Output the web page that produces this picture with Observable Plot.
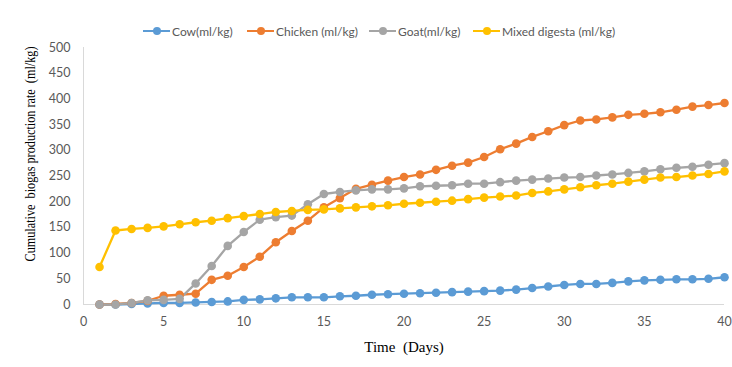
<!DOCTYPE html>
<html>
<head>
<meta charset="utf-8">
<script src="https://cdn.jsdelivr.net/npm/d3@7"></script>
<script src="https://cdn.jsdelivr.net/npm/@observablehq/plot@0.6"></script>
<style>
  body { margin: 0; background: #fff; }
  #wrap { position: relative; width: 732px; height: 367px; }
  #legend { position: absolute; top: 22px; left: 0; width: 732px; height: 18px; font-family: Lato, "Open Sans", sans-serif; font-size: 12px; color: #595959; }
  .item { position: absolute; top: 0; display: flex; align-items: center; height: 18px; white-space: nowrap; }
  .sw { position: relative; width: 27px; height: 18px; margin-right: 2px; }
  .sw .ln { position: absolute; left: 0; top: 8px; width: 27px; height: 2.3px; }
  .sw .dt { position: absolute; left: 9.5px; top: 5px; width: 8px; height: 8px; border-radius: 50%; }
</style>
</head>
<body>
<div id="wrap">
  <div id="chart"></div>
  <div id="legend"></div>
</div>
<script>
const days = d3.range(1, 41);
const seriesNames = ["Cow(ml/kg)", "Chicken (ml/kg)", "Goat(ml/kg)", "Mixed digesta (ml/kg)"];
const colors = ["#5B9BD5", "#ED7D31", "#A5A5A5", "#FFC000"];
const cow = [0,0,1,2,3,3,4,5,6,9,10,12,14,14,14,16,17,19,20,21,22,23,24,25,26,27,29,32,35,38,40,40,42,45,47,48,49,49,50,53];
const chicken = [0,1,3,7,17,19,21,48,56,73,93,121,143,163,189,207,225,233,241,248,253,262,270,276,287,302,313,326,337,349,358,360,364,369,371,374,379,385,388,392];
const goat = [0,0,3,8,9,11,41,75,114,141,165,170,173,195,215,219,222,224,224,226,230,231,232,235,235,238,241,243,245,247,248,251,253,256,259,263,266,268,272,275];
const mixed = [73,144,147,149,152,156,160,163,168,172,176,180,182,184,185,187,189,191,193,196,198,200,202,205,208,210,212,217,220,224,228,232,235,239,243,247,248,251,254,259];
const xTicks = [0,5,10,15,20,25,30,35,40];
const yTicks = [0,50,100,150,200,250,300,350,400,450,500];
const legendX = [143, 247, 369, 473];

const allSeries = [cow, chicken, goat, mixed];
const data = [];
allSeries.forEach((vals, si) => vals.forEach((v, i) => data.push({day: days[i], value: v, series: seriesNames[si]})));

const chart = Plot.plot({
  width: 732,
  height: 367,
  marginLeft: 83,
  marginRight: 8,
  marginTop: 47,
  marginBottom: 63,
  style: {fontFamily: "Lato, 'Open Sans', sans-serif", fontSize: "12.5px", color: "#595959", background: "#fff"},
  x: {domain: [0, 40], ticks: xTicks, tickSize: 0, tickPadding: 13, label: null},
  y: {domain: [0, 500], ticks: yTicks, tickSize: 0, tickPadding: 13, label: null},
  color: {domain: seriesNames, range: colors},
  marks: [
    Plot.ruleX([0], {stroke: "#d9d9d9", strokeWidth: 1}),
    Plot.ruleY([0], {stroke: "#d9d9d9", strokeWidth: 1}),
    Plot.line(data, {x: "day", y: "value", z: "series", stroke: "series", strokeWidth: 2.3}),
    Plot.dot(data, {x: "day", y: "value", fill: "series", r: 4.3}),
    Plot.text(["Time  (Days)"], {frameAnchor: "bottom", dy: 47, fontFamily: "'Liberation Serif', 'Times New Roman', serif", fontSize: 15, fill: "#000"}),
    Plot.text(["Cumulative  biogas production rate  (ml/kg)"], {frameAnchor: "left", textAnchor: "middle", dx: -53, dy: -22, rotate: -90, fontFamily: "'Liberation Serif', 'Times New Roman', serif", fontSize: 14, fill: "#000", className: "ytitle"})
  ]
});
document.getElementById("chart").appendChild(chart);
d3.select(chart).selectAll(".ytitle text").attr("textLength", 215).attr("lengthAdjust", "spacingAndGlyphs");

const legend = document.getElementById("legend");
seriesNames.forEach((name, i) => {
  const item = document.createElement("div");
  item.className = "item";
  item.style.left = legendX[i] + "px";
  item.innerHTML = `<div class="sw"><div class="ln" style="background:${colors[i]}"></div><div class="dt" style="background:${colors[i]}"></div></div><span>${name}</span>`;
  legend.appendChild(item);
});
</script>
</body>
</html>
